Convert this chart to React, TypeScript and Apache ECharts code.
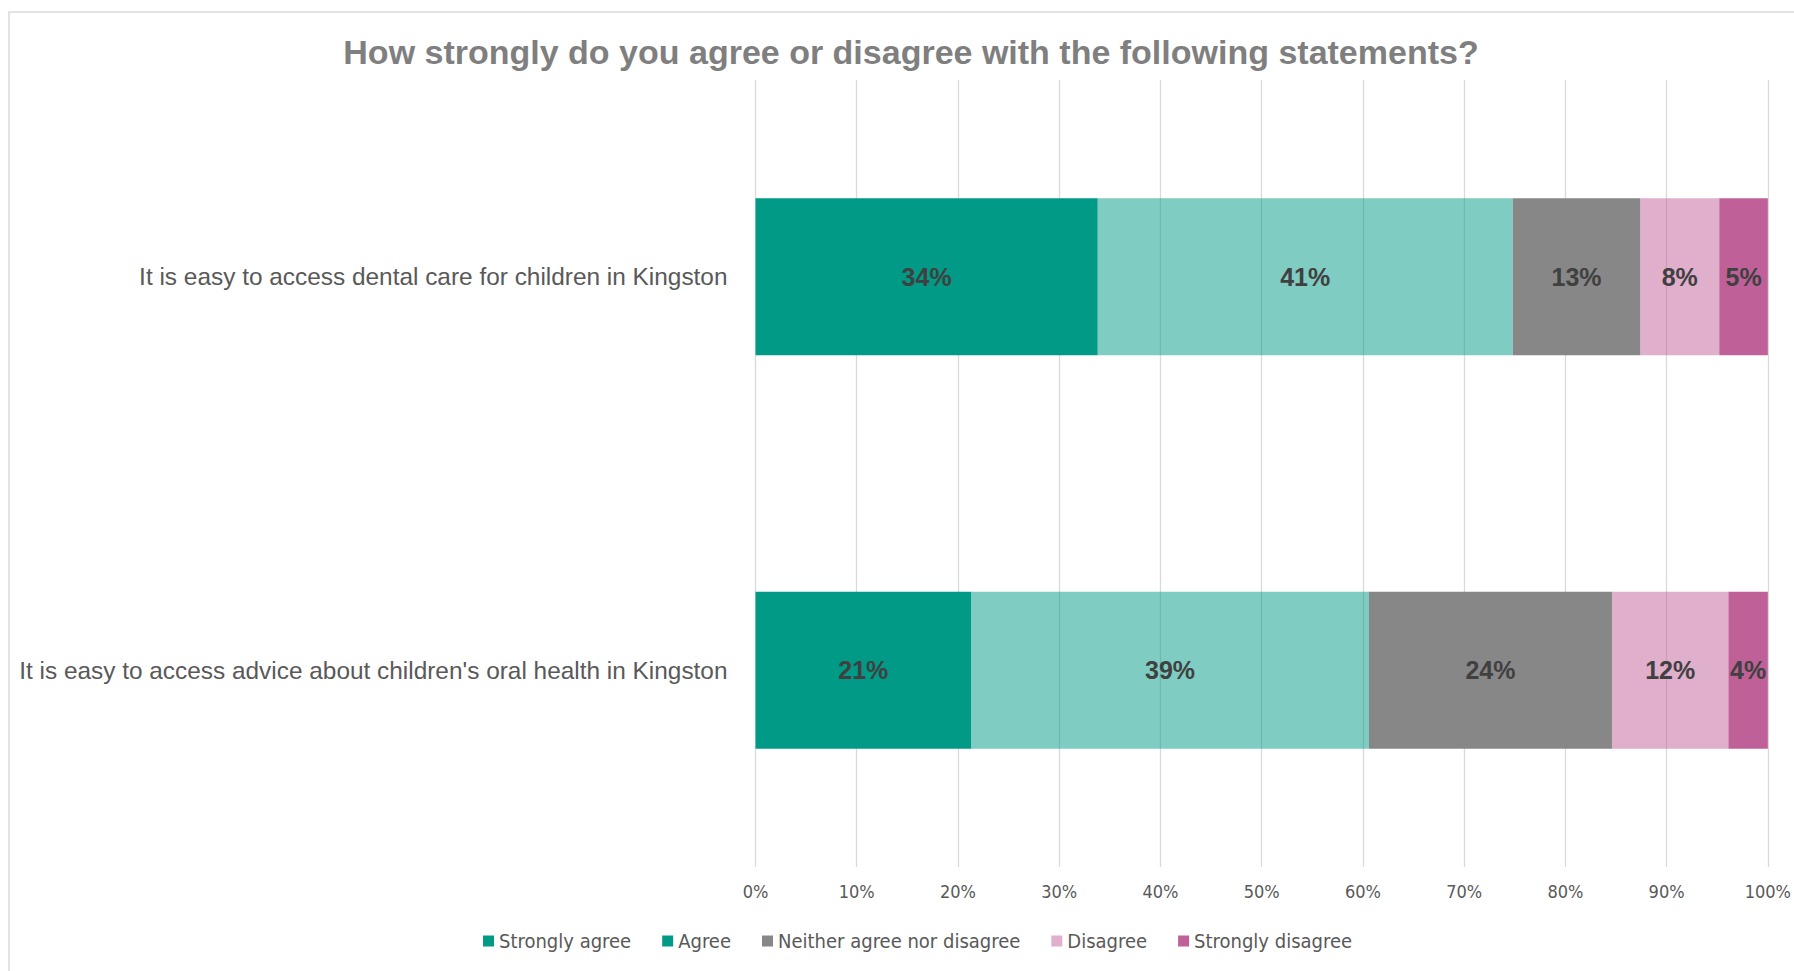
import React, { useEffect, useRef } from "react";
import * as echarts from "echarts";

const categories = [
  "It is easy to access dental care for children in Kingston",
  "It is easy to access advice about children's oral health in Kingston",
];
const seriesNames = [
  "Strongly agree",
  "Agree",
  "Neither agree nor disagree",
  "Disagree",
  "Strongly disagree",
];
const stronglyAgree = [33.8, 21.3];
const agree = [41.0, 39.3];
const neither = [12.6, 24.0];
const disagree = [7.8, 11.5];
const stronglyDisagree = [4.8, 3.9];
const xTicks = [0, 10, 20, 30, 40, 50, 60, 70, 80, 90, 100];

const TITLE = "How strongly do you agree or disagree with the following statements?";

export default function App() {
  const ref = useRef<HTMLDivElement>(null);
  useEffect(() => {
    if (!ref.current) return;
    const chart = echarts.init(ref.current, null, { renderer: "svg" });
    const narrow = "'Liberation Sans Narrow', 'DejaVu Sans Condensed', 'Liberation Sans', sans-serif";
    const colors = [
      "#009A87",
      "rgba(0,154,135,0.5)",
      "#878787",
      "rgba(191,96,153,0.5)",
      "#BF6099",
    ];
    const legendColors = ["#009A87", "#009A87", "#878787", "#DFAFCC", "#BF6099"];
    const dataSets = [stronglyAgree, agree, neither, disagree, stronglyDisagree];
    const series = seriesNames.map((name, i) => ({
      name,
      type: "bar",
      stack: "total",
      barWidth: 157,
      data: dataSets[i],
      itemStyle: { color: colors[i] },
      label: {
        show: true,
        position: "inside",
        formatter: (p: any) => Math.round(p.value) + "%",
        fontFamily: "'Liberation Sans', Arial, sans-serif",
        fontWeight: "bold",
        fontSize: 25,
        color: "#404040",
      },
      emphasis: { disabled: true },
    }));
    chart.setOption({
      animation: false,
      title: {
        text: TITLE,
        left: 906,
        top: 30,
        textAlign: "center",
        textStyle: {
          fontFamily: "'Liberation Sans', Arial, sans-serif",
          fontWeight: "bold",
          fontSize: 34,
          color: "#7F7F7F",
        },
      },
      graphic: [
        {
          type: "rect",
          shape: { x: 9, y: 12, width: 1800, height: 1000 },
          style: { fill: "none", stroke: "#D9D9D9", lineWidth: 1.5 },
          silent: true,
        },
      ],
      legend: {
        bottom: 15,
        left: 478,
        itemWidth: 11,
        itemHeight: 11,
        itemGap: 31,
        icon: "rect",
        textStyle: { fontFamily: narrow, fontSize: 20, color: "#595959" },
        data: seriesNames.map((n, i) => ({
          name: n,
          itemStyle: { color: legendColors[i] },
        })),
      },
      grid: { left: 755.5, right: 23, top: 80, bottom: 104, containLabel: false },
      xAxis: {
        type: "value",
        min: 0,
        max: 100,
        interval: 10,
        axisLine: { show: false },
        axisTick: { show: false },
        axisLabel: {
          formatter: (v: number) => (xTicks.includes(v) ? v + "%" : ""),
          fontFamily: narrow,
          fontSize: 18,
          color: "#595959",
          margin: 15,
        },
        splitLine: { show: true, lineStyle: { color: "#D9D9D9", width: 1.3 } },
      },
      yAxis: {
        type: "category",
        inverse: true,
        data: categories,
        axisLine: { show: false },
        axisTick: { show: false },
        axisLabel: {
          fontFamily: "'Liberation Sans', Arial, sans-serif",
          fontSize: 24.4,
          color: "#595959",
          margin: 28,
        },
      },
      series,
    });
    return () => chart.dispose();
  }, []);
  return (
    <div
      ref={ref}
      style={{ position: "fixed", left: 0, top: 0, width: 1794, height: 971, background: "#fff" }}
    />
  );
}
